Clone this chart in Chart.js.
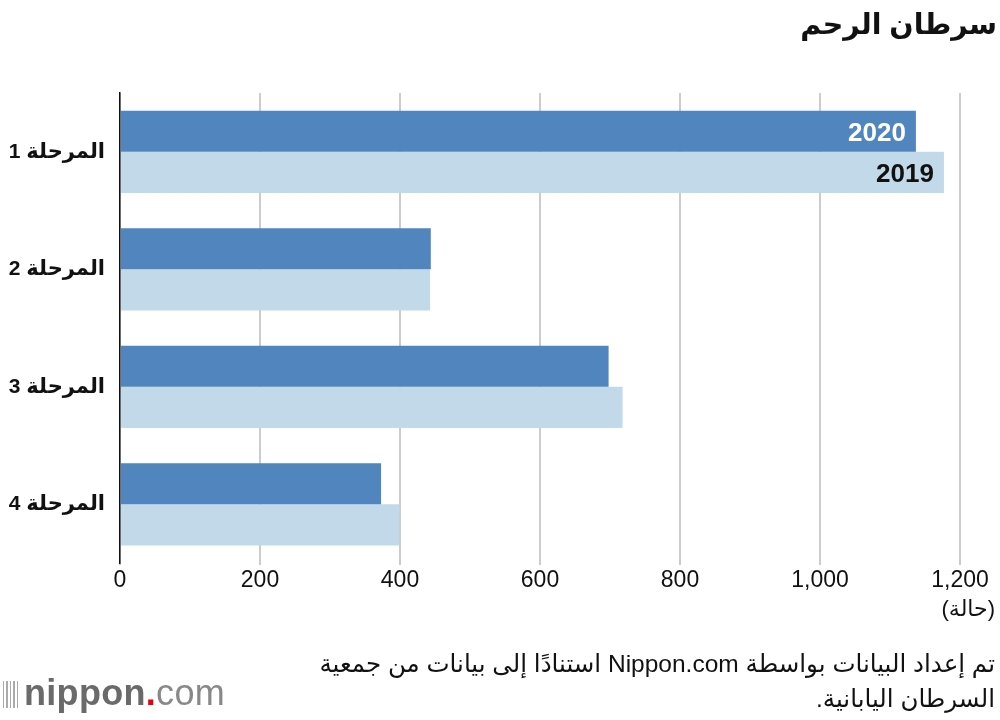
<!DOCTYPE html>
<html lang="ar">
<head>
    <meta charset="UTF-8">
    <title>سرطان الرحم</title>
    <script src="https://cdn.jsdelivr.net/npm/chart.js"></script>
    <style>
        body { margin: 0; background: #fff; font-family: "Liberation Sans", "DejaVu Sans", sans-serif; }
        .wrap { position: relative; width: 1000px; height: 720px; overflow: hidden; }
        canvas { position: absolute; left: 0; top: 0; }
        .title { position: absolute; right: 3px; top: 8px; font-size: 28.5px; font-weight: bold; color: #111; direction: rtl; }
        .unit { position: absolute; right: 5px; top: 596px; font-size: 22px; color: #111; direction: rtl; }
        .note { position: absolute; right: 5px; top: 646px; font-size: 24.5px; line-height: 35px; color: #111; direction: rtl; text-align: right; white-space: nowrap; }
        .logo { position: absolute; left: 3px; top: 672px; font-size: 36px; color: #6a6a6a; letter-spacing: 0.3px; }
        .logo .bars { display: inline-block; width: 16px; height: 27px; margin-right: 5px; vertical-align: -3px;
            background: repeating-linear-gradient(90deg, #aaa 0 1.5px, transparent 1.5px 3.5px); }
        .logo b { font-weight: bold; }
        .logo .dot { color: #e60012; font-weight: bold; }
        .logo .com { font-weight: 300; color: #888; }
    </style>
</head>
<body>
    <div class="wrap">
        <canvas id="chart" width="1000" height="720"></canvas>
        <div class="title">سرطان الرحم</div>
        <div class="unit">(حالة)</div>
        <div class="note">تم إعداد البيانات بواسطة Nippon.com استنادًا إلى بيانات من جمعية<br>السرطان اليابانية.</div>
        <div class="logo"><span class="bars"></span><b>nippon</b><span class="dot">.</span><span class="com">com</span></div>
    </div>
    <script>
        const categories = ['المرحلة 1', 'المرحلة 2', 'المرحلة 3', 'المرحلة 4'];
        const seriesNames = ['2020', '2019'];
        const values2020 = [1137, 444, 698, 373];
        const values2019 = [1177, 443, 718, 399];
        const xTicks = [0, 200, 400, 600, 800, 1000, 1200];

        const fontFamily = '"Liberation Sans", "DejaVu Sans", sans-serif';

        // year labels inside the first pair of bars, acting as the legend
        const barLabels = {
            id: 'barLabels',
            afterDatasetsDraw(chart) {
                const ctx = chart.ctx;
                const colors = ['#ffffff', '#111111'];
                chart.data.datasets.forEach((ds, i) => {
                    const bar = chart.getDatasetMeta(i).data[0];
                    ctx.save();
                    ctx.font = 'bold 26px ' + fontFamily;
                    ctx.fillStyle = colors[i];
                    ctx.textAlign = 'right';
                    ctx.textBaseline = 'middle';
                    ctx.fillText(ds.label, bar.x - 10, bar.y + 3);
                    ctx.restore();
                });
            }
        };

        new Chart(document.getElementById('chart'), {
            type: 'bar',
            data: {
                labels: categories,
                datasets: [
                    { label: seriesNames[0], data: values2020, backgroundColor: '#5185bd' },
                    { label: seriesNames[1], data: values2019, backgroundColor: '#c1d9e8' }
                ]
            },
            options: {
                indexAxis: 'y',
                responsive: false,
                animation: false,
                layout: { padding: { top: 93, right: 40, left: 0, bottom: 0 } },
                datasets: { bar: { barPercentage: 1, categoryPercentage: 0.7 } },
                plugins: { legend: { display: false }, tooltip: { enabled: false } },
                scales: {
                    x: {
                        min: 0,
                        max: 1200,
                        afterBuildTicks: s => { s.ticks = xTicks.map(v => ({ value: v })); },
                        afterFit: s => { s.height = 157; },
                        grid: { color: '#cccccc', lineWidth: 2, tickLength: 2 },
                        border: { display: false },
                        ticks: {
                            color: '#111',
                            padding: 2,
                            font: { family: fontFamily, size: 23 },
                            callback: v => v.toLocaleString('en-US')
                        }
                    },
                    y: {
                        afterFit: s => { s.width = 120; },
                        grid: { display: true, color: 'transparent', drawTicks: false },
                        border: { display: true, color: '#111', width: 1.5 },
                        ticks: {
                            color: '#111',
                            padding: 15,
                            font: { family: fontFamily, size: 21, weight: 'bold' }
                        }
                    }
                }
            },
            plugins: [barLabels]
        });
    </script>
</body>
</html>
